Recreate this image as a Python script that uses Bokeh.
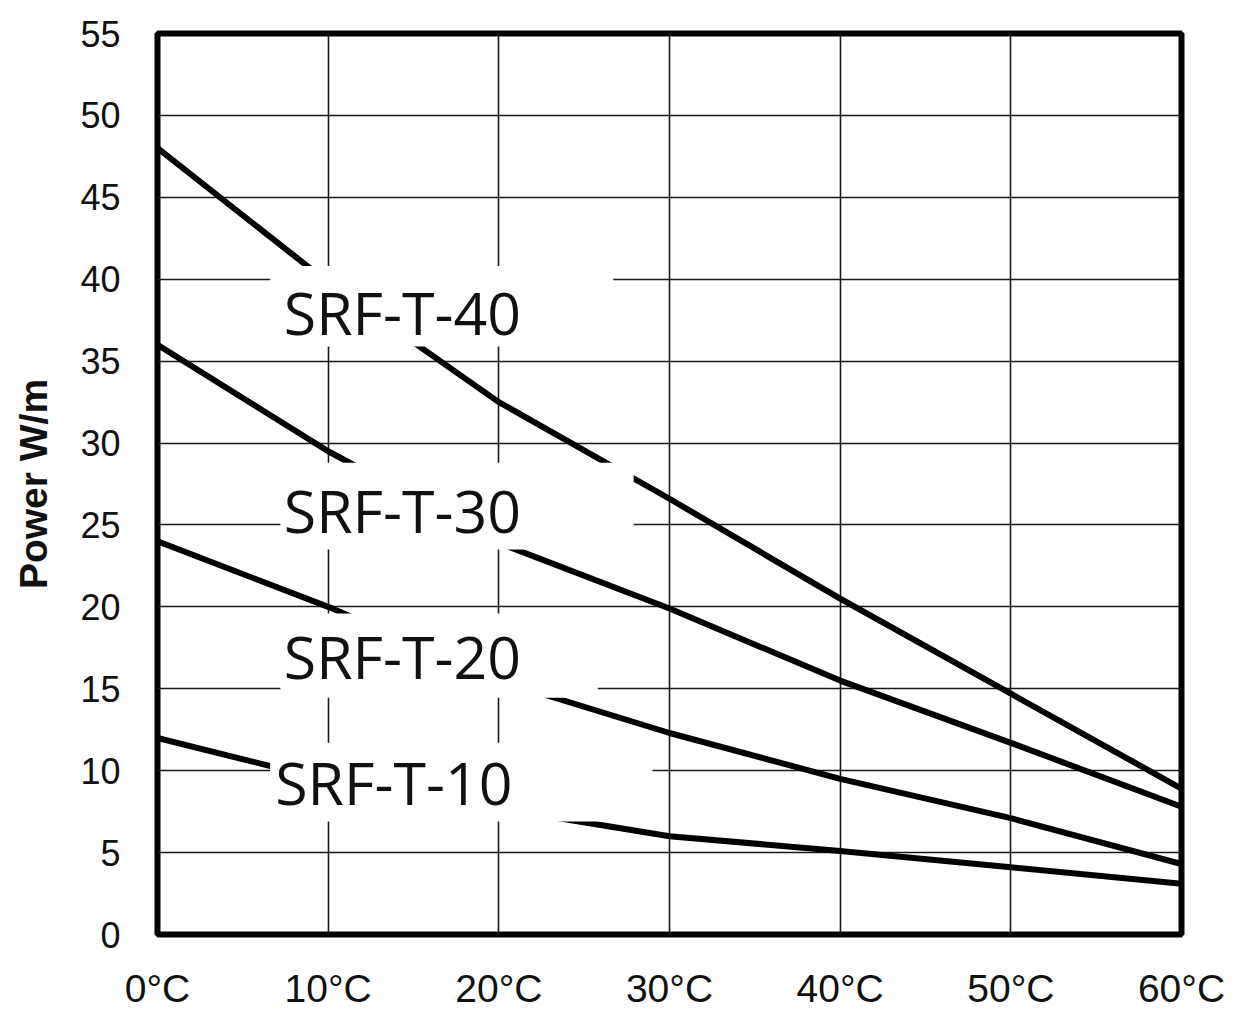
from bokeh.plotting import figure
from bokeh.models import Range1d, FixedTicker, BoxAnnotation, Label, ColumnDataSource
from bokeh.embed import file_html
from bokeh.resources import INLINE

# ---- data ----
temps = [0, 10, 20, 30, 40, 50, 60]
srf_t_40 = [48.0, 39.8, 32.5, 26.6, 20.5, 14.7, 8.9]
srf_t_30 = [36.0, 29.5, 23.9, 19.9, 15.5, 11.7, 7.8]
srf_t_20 = [24.0, 20.0, 15.5, 12.3, 9.5, 7.1, 4.3]
srf_t_10 = [12.0, 9.4, 7.7, 6.0, 5.1, 4.1, 3.1]
series_names = ["SRF-T-40", "SRF-T-30", "SRF-T-20", "SRF-T-10"]
x_ticks = [0, 10, 20, 30, 40, 50, 60]
x_tick_labels = ["0°C", "10°C", "20°C", "30°C", "40°C", "50°C", "60°C"]
y_ticks = [0, 5, 10, 15, 20, 25, 30, 35, 40, 45, 50, 55]
y_label = "Power W/m"

p = figure(width=1229, height=1012, output_backend="svg", toolbar_location=None,
           x_range=Range1d(0, 60), y_range=Range1d(0, 55),
           min_border_left=157, min_border_right=48, min_border_top=33, min_border_bottom=78)

p.outline_line_color = "black"
p.outline_line_width = 6
p.background_fill_color = "white"
p.border_fill_color = "white"

p.xaxis.ticker = FixedTicker(ticks=x_ticks)
p.yaxis.ticker = FixedTicker(ticks=y_ticks)
p.xaxis.major_label_overrides = {t: l for t, l in zip(x_ticks, x_tick_labels)}
for ax in (p.xaxis, p.yaxis):
    ax.axis_line_color = None
    ax.major_tick_line_color = None
    ax.minor_tick_line_color = None
    ax.major_tick_out = 0
    ax.major_tick_in = 0
    ax.major_label_text_font = "Liberation Sans"
    ax.major_label_text_color = "#111111"
p.xaxis.major_label_text_font_size = "39px"
p.xaxis.major_label_standoff = 32
p.yaxis.major_label_text_font_size = "36px"
p.yaxis.major_label_standoff = 37
p.yaxis.axis_label = y_label
p.yaxis.axis_label_text_font = "Liberation Sans"
p.yaxis.axis_label_text_font_style = "bold"
p.yaxis.axis_label_text_font_size = "39px"
p.yaxis.axis_label_text_color = "#111111"
p.yaxis.axis_label_standoff = 22

p.xgrid.ticker = FixedTicker(ticks=x_ticks)
p.ygrid.ticker = FixedTicker(ticks=y_ticks)
for g in (p.xgrid, p.ygrid):
    g.grid_line_color = "#1a1a1a"
    g.grid_line_width = 1.6

src = ColumnDataSource(dict(t=temps, s40=srf_t_40, s30=srf_t_30, s20=srf_t_20, s10=srf_t_10))
for col in ["s40", "s30", "s20", "s10"]:
    p.line("t", col, source=src, line_color="black", line_width=6, line_join="round")

# label boxes (white backgrounds that hide grid and curves), in data units
boxes = [
    (6.6, 26.7, 35.9, 40.8),
    (7.2, 27.9, 23.5, 28.8),
    (7.2, 25.8, 14.45, 19.6),
    (6.6, 29.0, 6.9, 11.7),
]
label_pos = [(7.4, 38.0), (7.4, 25.9), (7.4, 17.0), (6.9, 9.3)]
for (l, r, b, t), (lx, ly), name in zip(boxes, label_pos, series_names):
    p.add_layout(BoxAnnotation(left=l, right=r, bottom=b, top=t,
                               fill_color="white", fill_alpha=1.0, line_color=None))
    p.add_layout(Label(x=lx, y=ly, text=name, text_font="Open Sans",
                       text_font_size="59px", text_color="#111111",
                       text_baseline="alphabetic", text_align="left"))

open("out.html", "w").write(file_html(p, INLINE))
